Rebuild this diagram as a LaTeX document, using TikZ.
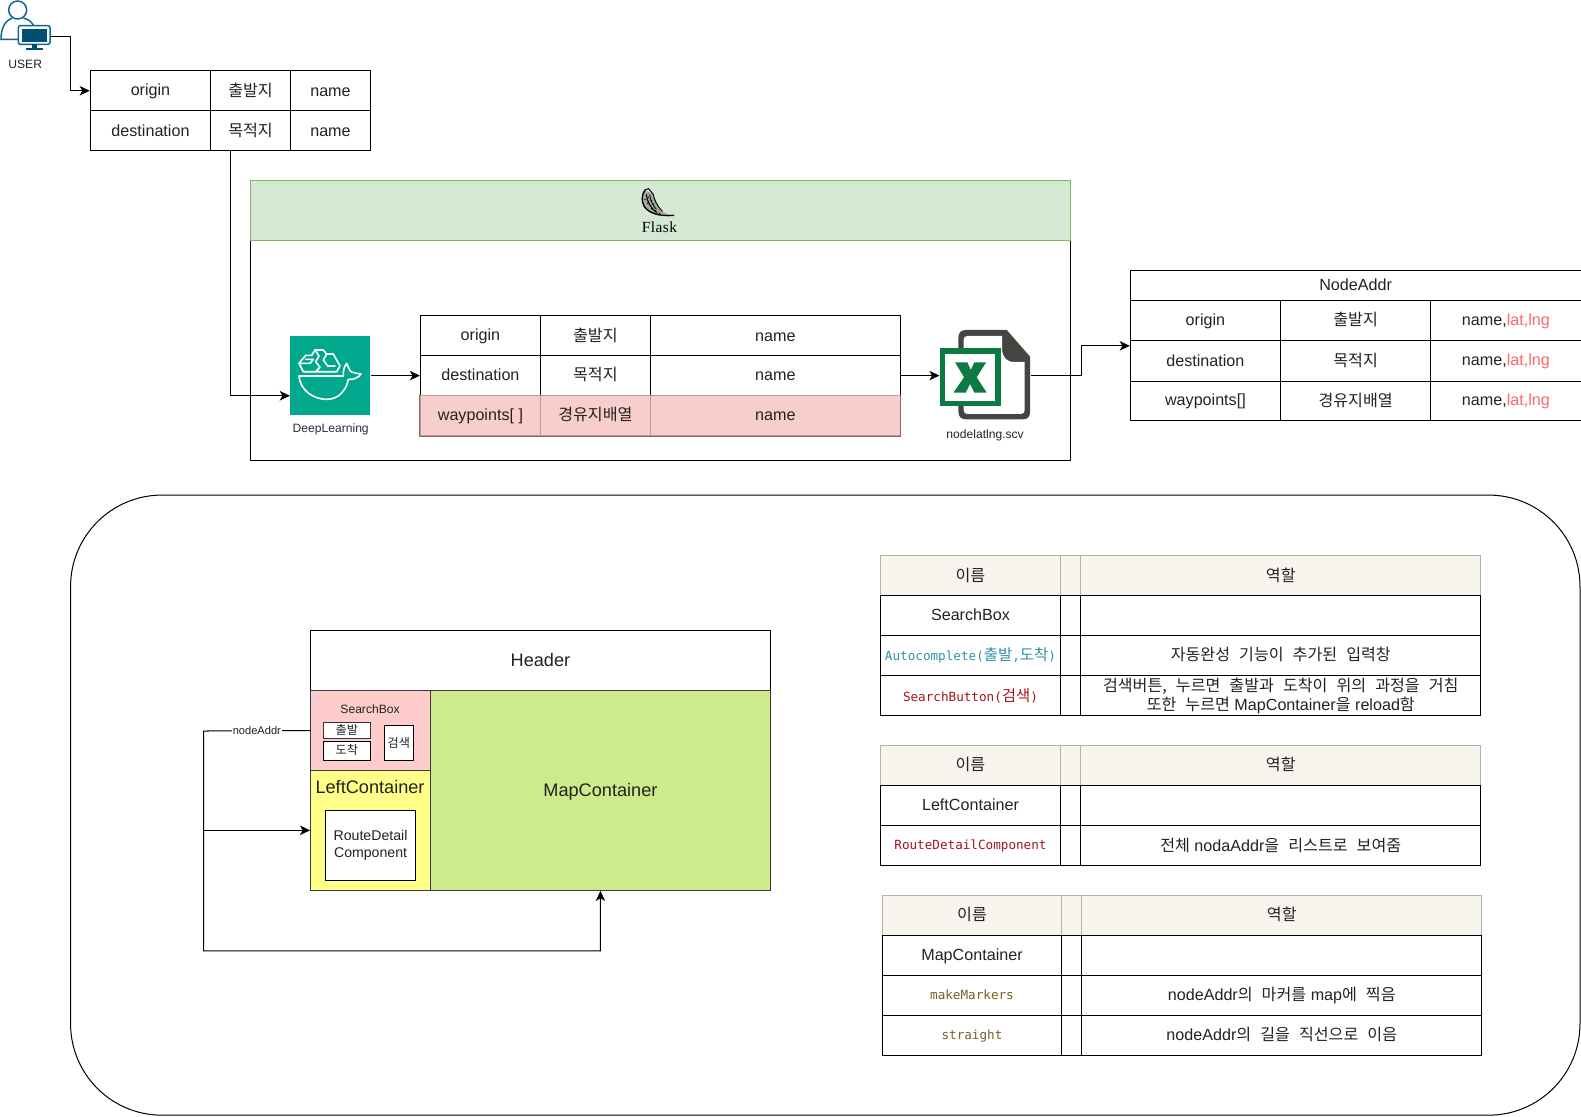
\documentclass[tikz,border=0pt]{standalone}
\usepackage{fontspec}
\setmainfont{Liberation Sans}
\newfontfamily\krfont[WordSpace=2.5]{Noto Sans CJK KR}
\newfontfamily\codefont{DejaVu Sans Mono}
\usetikzlibrary{arrows.meta,calc}
\newcommand{\ko}[1]{{\krfont #1}}
\newcommand{\kob}[1]{{\fontsize{11.5}{11}\krfont #1}}
\newcommand{\cellstrut}{\rule[-.17em]{0pt}{1em}}
\definecolor{hdrfill}{HTML}{F7F5EE}
\definecolor{hdrline}{HTML}{B5B1A5}
\definecolor{pinkfill}{HTML}{F8CECC}
\definecolor{pinkline}{HTML}{B99A98}
\definecolor{pinkedge}{HTML}{8A6664}
\definecolor{flaskfill}{HTML}{D5E8D4}
\definecolor{flaskline}{HTML}{82B366}
\definecolor{teal}{HTML}{01A88D}
\definecolor{xlgreen}{HTML}{0C7A42}
\definecolor{xldark}{HTML}{444441}
\definecolor{userblue}{HTML}{10658A}
\definecolor{userdark}{HTML}{005073}
\definecolor{redtxt}{HTML}{FF6666}
\definecolor{autotxt}{HTML}{2F8FA8}
\definecolor{btntxt}{HTML}{A31515}
\definecolor{fntxt}{HTML}{795E26}
\definecolor{sbfill}{HTML}{FFCCCC}
\definecolor{lcfill}{HTML}{FFFF88}
\definecolor{mapfill}{HTML}{CDEB8B}
\definecolor{edge}{HTML}{36393D}
\definecolor{darktxt}{HTML}{222222}
\tikzset{
  cellbox/.style={draw=black,line width=0.75pt,inner sep=0pt,text=darktxt,align=center,
    font=\fontsize{12}{14.2}\selectfont,
    execute at begin node=\cellstrut,execute at end node=\cellstrut},
  hdrcell/.style={draw=hdrline,fill=hdrfill},
  pinkcell/.style={draw=pinkline,fill=pinkfill},
  arr/.style={draw=black,line width=0.75pt,-{Stealth[length=7.5pt,width=7pt,inset=2pt]}},
  small/.style={font=\fontsize{9}{11}\selectfont,inner sep=0pt},
  code/.style={font=\fontsize{9.4}{11}\codefont},
  zoomed/.style 2 args={shift={(#1,#2)},x=0.248pt,y=-0.248pt},
}
\newcommand{\bx}[7][]{\node[cellbox,#1,minimum width={(#5-#3)*0.75pt},minimum height={(#6-#4)*0.75pt}] (#2) at ({(#3+#5)/2},{(#4+#6)/2}) {#7};}
\begin{document}
\begin{tikzpicture}[x=0.75pt,y=-0.75pt]
\useasboundingbox (0,0) rectangle (1568,1107);

% big rounded frame
\bx[rounded corners=68pt]{frame}{70}{491}{1567}{1106}{}

% user icon
\node[minimum width=37.5pt,minimum height=54pt,inner sep=0pt] (user) at (25,36) {};
\begin{scope}[zoomed={0}{0},line width=1.1pt]
  \draw[userblue] (53,30) circle (27);
  \draw[userblue] (55,118) -- (3,118) .. controls (3,85) and (15,62) .. (36,54);
  \draw[userblue] (70,54) .. controls (85,58) and (95,65) .. (100,76);
  \draw[userblue,fill=white,rounded corners=1.5pt] (55,77) rectangle (150,133);
  \fill[userdark] (65,86) rectangle (140,125);
  \fill[userdark] (95,133) rectangle (110,143);
  \fill[userdark] (78,143) rectangle (128,150);
\end{scope}
\node[small,text=darktxt] (userlbl) at (25,63.5) {USER};

% first table
\bx{ta1}{89.5}{70}{209}{110}{origin}
\bx{ta2}{209}{70}{288}{110}{\ko{출발지}}
\bx{ta3}{288}{70}{367.5}{110}{name}
\bx{tb1}{89.5}{110}{209}{149.5}{destination}
\bx{tb2}{209}{110}{288}{149.5}{\ko{목적지}}
\bx{tb3}{288}{110}{367.5}{149.5}{name}

% flask container
\bx{flaskbody}{248.5}{238.5}{1061.5}{457}{}
\bx[draw=flaskline,fill=flaskfill]{flaskhead}{248.5}{179.5}{1061.5}{238.5}{}
\begin{scope}[zoomed={619.9}{178.5},line cap=round]
  \fill[black!35] (58,30) .. controls (48,44) and (46,62) .. (56,80) .. controls (70,102) and (105,112) .. (146,106)
     .. controls (120,104) and (104,92) .. (95,74) .. controls (90,62) and (88,50) .. (84,42) -- cycle;
  \draw[black,line width=1pt] (60,30) .. controls (50,44) and (48,62) .. (58,80) .. controls (72,100) and (105,110) .. (146,106);
  \draw[black,line width=0.7pt] (60,30) -- (70,26) -- (84,42) .. controls (88,58) and (94,76) .. (112,94);
  \draw[black,line width=0.8pt] (64,44) .. controls (66,64) and (76,84) .. (96,98);
  \draw[black,line width=0.6pt] (74,44) .. controls (76,60) and (82,76) .. (94,88);
  \foreach \ax/\ay in {60/58,68/70,80/86,70/52,86/72,78/62,90/92,104/100}
    \fill[black] (\ax,\ay) circle (2.2);
\end{scope}
\node[inner sep=0pt,text=black,font={\fontsize{11.5}{13}\fontspec{Liberation Serif}[LetterSpace=3]}] (flasklbl) at (654,225) {Flask};

% deep learning icon
\bx[draw=none,fill=teal]{deep}{288}{333}{367}{412}{}
\begin{scope}[zoomed={282.65}{327.3},line width=1.2pt,line join=round,line cap=round]
  \draw[white] (42,138) -- (175,138);
  \draw[white] (42,138) .. controls (45,180) and (85,208) .. (125,208) .. controls (165,208) and (185,175) .. (190,148)
     .. controls (205,150) and (222,142) .. (228,132) .. controls (215,130) and (200,128) .. (195,122)
     .. controls (192,115) and (188,108) .. (185,100) .. controls (176,112) and (174,125) .. (175,138);
  \draw[white] (42,100) -- (62,76) -- (80,76) -- (90,60) -- (115,60) -- (125,72) -- (145,72) -- (165,108) -- (155,125) -- (55,125) -- cycle;
  \draw[white] (42,100) -- (75,100) -- (85,88) -- (62,88);
  \draw[white] (90,60) -- (102,78) -- (92,95) -- (105,112) -- (92,125);
  \draw[white] (125,72) -- (115,90) -- (128,108) -- (150,108);
\end{scope}
\node[small,text={rgb,255:red,35;green,47;blue,62}] (deeplbl) at (328,425.5) {DeepLearning};

% second table
\bx{tc1}{417}{313}{536}{353}{origin}
\bx{tc2}{536}{313}{645}{353}{\ko{출발지}}
\bx{tc3}{645}{313}{893}{353}{name}
\bx{td1}{417}{353}{536}{392}{destination}
\bx{td2}{536}{353}{645}{392}{\ko{목적지}}
\bx{td3}{645}{353}{893}{392}{name}
\bx[pinkcell]{te1}{417}{392}{536}{432}{waypoints[ ]}
\bx[pinkcell]{te2}{536}{392}{645}{432}{\ko{경유지배열}}
\bx[pinkcell]{te3}{645}{392}{893}{432}{name}
\draw[pinkedge,line width=0.75pt] (te1.north west) -- (te1.south west) -- (te3.south east) -- (te3.north east);

% excel icon
\node[minimum width=67.5pt,minimum height=66pt,inner sep=0pt] (xl) at (977,372.5) {};
\begin{scope}[zoomed={872.8}{297.5}]
  \fill[xldark] (258,90) -- (380,90) -- (450,170) -- (450,335) .. controls (450,350) and (443,358) .. (428,358)
     -- (258,358) .. controls (243,358) and (235,350) .. (235,335) -- (235,113) .. controls (235,98) and (243,90) .. (258,90) -- cycle;
  \fill[white] (262,108) -- (366,108) -- (366,150) .. controls (368,172) and (380,186) .. (402,186) -- (434,186) -- (434,330)
     .. controls (434,338) and (430,342) .. (422,342) -- (262,342) .. controls (255,342) and (251,338) .. (251,330) -- (251,118) .. controls (251,112) and (255,108) .. (262,108) -- cycle;
  \fill[xlgreen] (180,145) rectangle (362,318);
  \fill[white] (196,161) rectangle (346,303);
  \fill[xlgreen] (225,187) -- (262,187) -- (272,210) -- (283,187) -- (318,187) -- (290,232) -- (320,278) -- (283,278) -- (270,252) -- (257,278) -- (220,278) -- (252,232) -- cycle;
\end{scope}
\node[small,text=darktxt] (xllbl) at (977,431.5) {nodelatlng.scv};

% NodeAddr table
\bx{nh}{1121}{268}{1568}{298}{NodeAddr}
\newcommand{\latlng}{name,\textcolor{redtxt}{lat,lng}}
\bx{na1}{1121}{298}{1270}{338}{origin}
\bx{na2}{1270}{298}{1419}{338}{\ko{출발지}}
\bx{na3}{1419}{298}{1568}{338}{\latlng}
\bx{nb1}{1121}{338}{1270}{378}{destination}
\bx{nb2}{1270}{338}{1419}{378}{\ko{목적지}}
\bx{nb3}{1419}{338}{1568}{378}{\latlng}
\bx{nc1}{1121}{378}{1270}{417}{waypoints[]}
\bx{nc2}{1270}{378}{1419}{417}{\ko{경유지배열}}
\bx{nc3}{1419}{378}{1568}{417}{\latlng}

% top connectors
\draw[arr] (user.east) -- ++(20,0) |- (ta1.west);
\draw[arr] ($(tb2.south west)!0.25!(tb2.south east)$) |- ($(deep.south west)!0.25!(deep.north west)$);
\draw[arr] (deep.east) -- (td1.west);
\draw[arr] (td3.east) -- (xl.west);
\draw[arr] (xl.east) -- ++(50,0) |- (nb1.west |- 0,343);

% layout
\bx[font=\fontsize{13.5}{16}\selectfont]{hdr}{308}{625.5}{764}{685}{Header}
\bx[draw=edge,fill=sbfill]{sb}{308}{685}{427}{764}{}
\bx[draw=edge,fill=lcfill]{lc}{308}{764}{427}{883}{}
\bx[draw=edge,fill=mapfill,font=\fontsize{13.5}{16}\selectfont]{map}{427}{685}{764}{883}{MapContainer}
\node[small,text=darktxt] (sblbl) at (367,703) {SearchBox};
\bx[draw=black!80,fill=white,font=\fontsize{9}{11}\selectfont]{dep}{321}{717}{367}{732}{\ko{출발}}
\bx[fill=white,font=\fontsize{9}{11}\selectfont]{arv}{321}{735}{367}{754}{\ko{도착}}
\bx[fill=white,font=\fontsize{9}{11}\selectfont]{srch}{381}{720}{410}{754}{\ko{검색}}
\node[inner sep=0pt,text=darktxt,font=\fontsize{13.5}{16}\selectfont] (lclbl) at (367,781) {LeftContainer};
\bx[fill=white,font=\fontsize{10.5}{12.8}\selectfont]{rdc}{323}{804}{412}{873}{RouteDetail\\Component}

\coordinate (busTop) at (202,725);
\coordinate (busBot) at (202,943);
\draw[arr] (sb.west) -- node[pos=0.5,fill=white,inner xsep=0.5pt,inner ysep=0.5pt,text=darktxt,font=\fontsize{8.25}{10}\selectfont] (addrlbl) {nodeAddr} (busTop) -- (busBot) -| (map.south);
\draw[arr] (busTop |- lc.west) -- (lc.west);

% role table 1
\bx[hdrcell]{p1h}{873}{551}{1052}{591}{\ko{이름}}
\bx[hdrcell]{p1g}{1052}{551}{1072}{591}{}
\bx[hdrcell]{p1r}{1072}{551}{1468.5}{591}{\ko{역할}}
\bx{p1a}{873}{591}{1052}{630}{SearchBox}
\bx{p1b}{1052}{591}{1072}{630}{}
\bx{p1c}{1072}{591}{1468.5}{630}{}
\bx[code,text=autotxt]{p2a}{873}{630}{1052}{670}{Autocomplete(\kob{출발},\kob{도착})}
\bx{p2b}{1052}{630}{1072}{670}{}
\bx{p2c}{1072}{630}{1468.5}{670}{\ko{자동완성 기능이 추가된 입력창}}
\bx[code,text=btntxt]{p3a}{873}{670}{1052}{710}{SearchButton(\kob{검색})}
\bx{p3b}{1052}{670}{1072}{710}{}
\bx{p3c}{1072}{670}{1468.5}{710}{\ko{검색버튼, 누르면 출발과 도착이 위의 과정을 거침}\\\ko{또한 누르면} MapContainer\ko{을} reload\ko{함}}

% role table 2
\bx[hdrcell]{q1h}{873}{739.5}{1052}{779}{\ko{이름}}
\bx[hdrcell]{q1g}{1052}{739.5}{1072}{779}{}
\bx[hdrcell]{q1r}{1072}{739.5}{1468.5}{779}{\ko{역할}}
\bx{q1a}{873}{779}{1052}{819}{LeftContainer}
\bx{q1b}{1052}{779}{1072}{819}{}
\bx{q1c}{1072}{779}{1468.5}{819}{}
\bx[code,text=btntxt]{q2a}{873}{819}{1052}{858.5}{RouteDetailComponent}
\bx{q2b}{1052}{819}{1072}{858.5}{}
\bx{q2c}{1072}{819}{1468.5}{858.5}{\ko{전체} nodaAddr\ko{을 리스트로 보여줌}}

% role table 3
\bx[hdrcell]{r1h}{875}{888}{1053}{928}{\ko{이름}}
\bx[hdrcell]{r1g}{1053}{888}{1073}{928}{}
\bx[hdrcell]{r1r}{1073}{888}{1469.5}{928}{\ko{역할}}
\bx{r1a}{875}{928}{1053}{967}{MapContainer}
\bx{r1b}{1053}{928}{1073}{967}{}
\bx{r1c}{1073}{928}{1469.5}{967}{}
\bx[code,text=fntxt]{r2a}{875}{967}{1053}{1007}{makeMarkers}
\bx{r2b}{1053}{967}{1073}{1007}{}
\bx{r2c}{1073}{967}{1469.5}{1007}{nodeAddr\ko{의 마커를} map\ko{에 찍음}}
\bx[code,text=fntxt]{r3a}{875}{1007}{1053}{1047}{straight}
\bx{r3b}{1053}{1007}{1073}{1047}{}
\bx{r3c}{1073}{1007}{1469.5}{1047}{nodeAddr\ko{의 길을 직선으로 이음}}
\end{tikzpicture}
\end{document}
